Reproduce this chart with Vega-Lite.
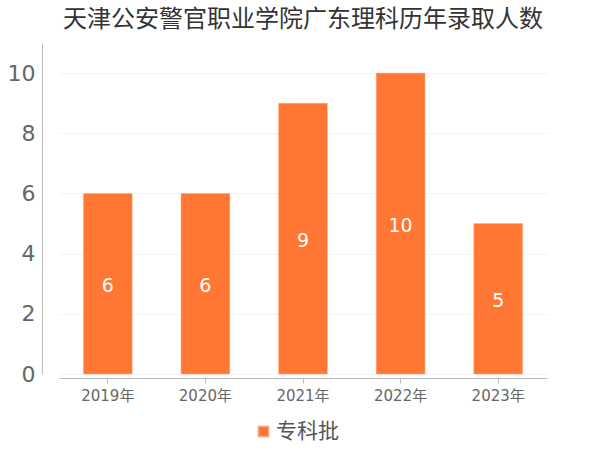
{
  "$schema": "https://vega.github.io/schema/vega-lite/v6.json",
  "autosize": {"type": "none"},
  "width": 488,
  "height": 331,
  "padding": {"left": 59, "top": 43, "right": 53, "bottom": 76},
  "background": "white",
  "config": {"view": {"stroke": null}, "font": "DejaVu Sans, Noto Sans CJK SC"},
  "title": {
    "text": "天津公安警官职业学院广东理科历年录取人数",
    "font": "Noto Sans CJK SC",
    "fontSize": 24,
    "fontWeight": "normal",
    "color": "#333333",
    "anchor": "middle",
    "offset": 11
  },
  "data": {
    "values": [
      {"year": "2019年", "count": 6, "batch": "专科批"},
      {"year": "2020年", "count": 6, "batch": "专科批"},
      {"year": "2021年", "count": 9, "batch": "专科批"},
      {"year": "2022年", "count": 10, "batch": "专科批"},
      {"year": "2023年", "count": 5, "batch": "专科批"}
    ]
  },
  "encoding": {
    "x": {
      "field": "year",
      "type": "nominal",
      "sort": null,
      "scale": {"paddingInner": 0.5, "paddingOuter": 0.25},
      "axis": {
        "title": null,
        "labelAngle": 0,
        "labelFontSize": 15,
        "labelColor": "#666666",
        "labelFont": "DejaVu Sans, Noto Sans CJK SC",
        "labelPadding": 5,
        "domainColor": "#bbbbbb",
        "tickColor": "#bbbbbb",
        "tickSize": 5,
        "offset": 4
      }
    },
    "y": {
      "field": "count",
      "type": "quantitative",
      "scale": {"domain": [0, 11], "nice": false},
      "axis": {
        "title": null,
        "values": [0, 2, 4, 6, 8, 10],
        "labelFontSize": 22,
        "labelColor": "#666666",
        "labelPadding": 7,
        "ticks": false,
        "domainColor": "#bbbbbb",
        "gridColor": "#f3f3f3",
        "offset": 17
      }
    }
  },
  "layer": [
    {
      "mark": {"type": "bar", "stroke": "#ffb08a", "strokeWidth": 0.5},
      "encoding": {
        "color": {
          "field": "batch",
          "type": "nominal",
          "scale": {"range": ["#ff7733"]},
          "legend": {
            "title": null,
            "orient": "none",
            "legendX": 194,
            "legendY": 378,
            "symbolType": "square",
            "symbolSize": 110,
            "symbolOpacity": 1,
            "labelFontSize": 21,
            "labelColor": "#555555",
            "labelFont": "Noto Sans CJK SC",
            "labelOffset": 2
          }
        }
      }
    },
    {
      "mark": {
        "type": "text",
        "color": "white",
        "fontSize": 19,
        "baseline": "middle",
        "dy": {"expr": "(scale('y', 0) - scale('y', datum.count)) / 2 + 2"}
      },
      "encoding": {
        "text": {"field": "count", "type": "quantitative"}
      }
    }
  ]
}
